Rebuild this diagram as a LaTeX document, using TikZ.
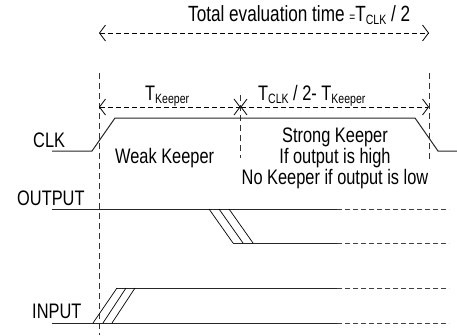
\documentclass[tikz,border=0pt]{standalone}
\usepackage{fontspec}
\setmainfont{Liberation Sans}[FakeStretch=0.78]
\usetikzlibrary{arrows.meta}
\newcommand\lowsub[1]{\raisebox{-3pt}{\fontsize{13.5}{14}\selectfont #1}}
\begin{document}
\begin{tikzpicture}[x=1pt,y=-1pt,
  lbl/.style={font=\fontsize{21}{23}\selectfont, inner sep=0pt, anchor=base west},
  sig/.style={line width=1pt, draw=black!85},
  edge/.style={line width=0.7pt, draw=black},
  fut/.style={line width=0.9pt, draw=black!75, dash pattern=on 5pt off 3pt},
  guide/.style={line width=0.8pt, draw=black!80, dash pattern=on 6pt off 4pt},
  span/.style={line width=0.8pt, dash pattern=on 5pt off 3pt,
    {Straight Barb[length=6pt,width=16pt]}-{Straight Barb[length=6pt,width=16pt]}},
]
\fill[white] (0,0) rectangle (457,335);
\useasboundingbox (0,0) rectangle (457,335);

% guide lines
\coordinate (gL0) at (99,73);  \coordinate (gL1) at (99,335);
\coordinate (gR0) at (429,73); \coordinate (gR1) at (429,162);
\coordinate (gM0) at (240.5,95); \coordinate (gM1) at (240.5,158);
\draw[guide] (gL0) -- (gL1);
\draw[guide] (gR0) -- (gR1);
\draw[guide] (gM0) -- (gM1);

% spans
\coordinate (tA) at (99,33);  \coordinate (tB) at (429,33);
\coordinate (kA) at (99,107); \coordinate (kM) at (240.5,107); \coordinate (kB) at (429,107);
\draw[span] (tA) -- (tB);
\draw[span] (kA) -- (kM);
\draw[span] (kM) -- (kB);

% CLK
\coordinate (c0) at (52,151);  \coordinate (c1) at (92,151);
\coordinate (c2) at (115,118); \coordinate (c3) at (415,118);
\coordinate (c4) at (438,151); \coordinate (c5) at (457,151);
\draw[sig] (c0) -- (c1) -- (c2) -- (c3) -- (c4) -- (c5);

% OUTPUT
\coordinate (oh0) at (52,209);  \coordinate (oh1) at (337,209); \coordinate (oh2) at (449,209);
\coordinate (ol0) at (233,243); \coordinate (ol1) at (337,243); \coordinate (ol2) at (449,243);
\draw[sig] (oh0) -- (oh1);
\draw[fut] (oh1) -- (oh2);
\draw[sig] (ol0) -- (ol1);
\draw[fut] (ol1) -- (ol2);
\coordinate (of1a) at (209,209); \coordinate (of1b) at (233,243);
\coordinate (of2a) at (219,209); \coordinate (of2b) at (243,243);
\coordinate (of3a) at (229,209); \coordinate (of3b) at (253,243);
\draw[edge] (of1a) -- (of1b);
\draw[edge] (of2a) -- (of2b);
\draw[edge] (of3a) -- (of3b);

% INPUT
\coordinate (ih0) at (117,288); \coordinate (ih1) at (337,288); \coordinate (ih2) at (449,288);
\coordinate (il0) at (52,323);  \coordinate (il1) at (337,323); \coordinate (il2) at (449,323);
\draw[sig] (ih0) -- (ih1);
\draw[fut] (ih1) -- (ih2);
\draw[sig] (il0) -- (il1);
\draw[fut] (il1) -- (il2);
\coordinate (ir1a) at (93,323);  \coordinate (ir1b) at (117,288);
\coordinate (ir2a) at (103,323); \coordinate (ir2b) at (126,288);
\coordinate (ir3a) at (112,323); \coordinate (ir3b) at (135,288);
\draw[edge] (ir1a) -- (ir1b);
\draw[edge] (ir2a) -- (ir2b);
\draw[edge] (ir3a) -- (ir3b);

% labels
\node[lbl, font=\fontsize{22}{24}\selectfont] (title) at (188,21) {Total evaluation time {\fontsize{13}{13}\selectfont =}T\lowsub{CLK} / 2};
\node[lbl] (tkeep) at (145,100) {T\lowsub{Keeper}};
\node[lbl] (trest) at (258,100) {T\lowsub{CLK} / 2- T\lowsub{Keeper}};
\node[lbl] (clk) at (33,147) {CLK};
\node[lbl] (out) at (17,205) {OUTPUT};
\node[lbl] (inp) at (32,318) {INPUT};
\node[lbl] (weak) at (115,163) {Weak Keeper};
\node[font=\fontsize{21}{18.5}\selectfont, inner sep=0pt, align=center, anchor=north]
  (strong) at (335,128) {Strong Keeper\\If output is high\\No Keeper if output is low};
\end{tikzpicture}
\end{document}
